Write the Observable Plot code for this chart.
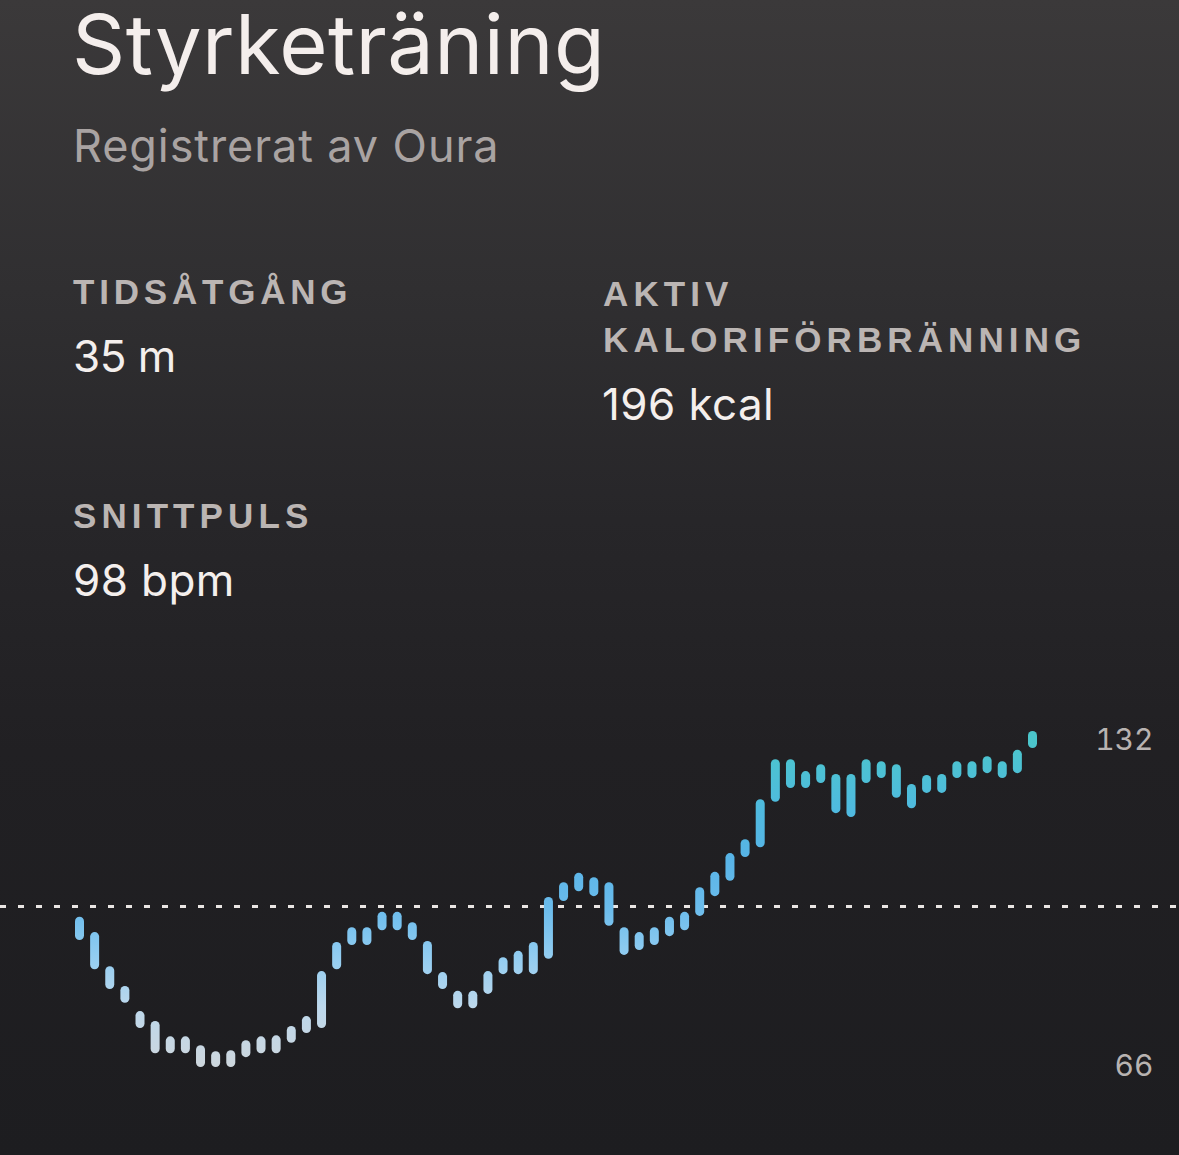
<!DOCTYPE html>
<html>
<head>
<meta charset="utf-8">
<script src="https://cdn.jsdelivr.net/npm/d3@7"></script>
<script src="https://cdn.jsdelivr.net/npm/@observablehq/plot@0.6"></script>
<style>
  html, body { margin: 0; padding: 0; }
  body {
    width: 1179px; height: 1155px; overflow: hidden; position: relative;
    background: linear-gradient(180deg, #3b393a 0%, #302f31 25%, #272629 45%, #212023 65%, #1d1d20 100%);
    font-family: Inter, "Noto Sans", sans-serif;
  }
  .t { position: absolute; white-space: nowrap; line-height: 1; }
  .title { left: 72px; top: 11px; font-size: 83px; line-height: 0.8; color: #f4eeec; font-weight: 400; letter-spacing: 0.45px; }
  .sub { left: 73px; top: 123px; font-size: 45px; color: #a9a3a2; letter-spacing: 0.9px; }
  .lab { font-family: "Liberation Sans", Arial, sans-serif; font-weight: 700; font-size: 35px; letter-spacing: 5.1px; color: #bbb5b3; }
  .val { font-size: 44px; color: #f4efed; letter-spacing: 0.4px; }
  #chart { position: absolute; left: 0; top: 700px; }
</style>
</head>
<body>
<div class="t title">Styrketräning</div>
<div class="t sub">Registrerat av Oura</div>
<div class="t lab" style="left:73px; top:274px; letter-spacing:4.8px;">TIDSÅTGÅNG</div>
<div class="t val" style="left:73px; top:334px; letter-spacing:-0.5px;">35 m</div>
<div class="t lab" style="left:603px; top:276px;">AKTIV</div>
<div class="t lab" style="left:603px; top:322px;">KALORIFÖRBRÄNNING</div>
<div class="t val" style="left:602px; top:382px;">196 kcal</div>
<div class="t lab" style="left:73px; top:498px;">SNITTPULS</div>
<div class="t val" style="left:73px; top:558px;">98 bpm</div>
<div id="chart"></div>
<script>
// Heart-rate samples (bpm): each bar spans low..high
const sampleIndex = d3.range(1, 65);
const bpmHigh = [95.3, 92.2, 85.3, 81.3, 76.2, 74.2, 71.1, 71.1, 69.3, 68.1, 68.3, 70.3, 71.1, 71.3, 73.2, 75.2,
  84.3, 90.2, 93.2, 93.2, 96.3, 96.3, 94.2, 90.4, 84.1, 80.3, 80.3, 84.3, 87.1, 88.4, 90.2, 99.3,
  102.3, 104.2, 103.3, 102.3, 93.2, 92.2, 93.2, 95.3, 96.3, 101.3, 104.4, 108.2, 111.0, 119.1,
  127.2, 127.2, 124.8, 126.2, 124.2, 124.2, 127.2, 126.8, 126.2, 122.2, 124.0, 124.2, 126.8, 126.8,
  127.8, 126.8, 129.1, 132.9];
const bpmLow = [92.4, 86.5, 82.5, 79.7, 74.6, 69.5, 69.5, 69.5, 66.7, 66.7, 66.7, 68.7, 69.5, 69.5, 71.6, 73.6,
  74.6, 86.5, 91.4, 91.4, 94.4, 94.4, 92.4, 85.5, 82.5, 78.6, 78.6, 81.5, 85.5, 85.5, 85.5, 88.6,
  100.3, 102.3, 101.3, 95.3, 89.4, 90.4, 91.4, 93.2, 94.4, 97.3, 101.3, 104.4, 109.2, 111.2,
  120.4, 123.2, 123.2, 124.2, 118.1, 117.3, 124.2, 125.2, 121.2, 119.1, 122.2, 122.2, 125.2, 125.2,
  126.2, 125.2, 126.2, 131.3];
const yTicks = [66, 132];
const avgBpm = 98;
const gradientStops = [
  [66, "#cdd6dd"], [78, "#bdd8ec"], [88, "#93cdf1"], [98, "#6bbcec"],
  [108, "#58b4e7"], [118, "#4fbadf"], [132, "#4bc6cb"]
];

const samples = sampleIndex.map((i, k) => ({ i, lo: bpmLow[k], hi: bpmHigh[k] }));

const chart = Plot.plot({
  width: 1179,
  height: 455,
  marginLeft: 79,
  marginRight: 147,
  marginTop: 40,
  marginBottom: 89,
  style: { background: "transparent", overflow: "visible" },
  x: { domain: [1, 64], axis: null },
  y: { domain: [66, 132] },
  marks: [
    Plot.ruleY([avgBpm], {
      stroke: "#e9e5e3", strokeWidth: 3, strokeDasharray: "6,12", dy: -2,
      insetLeft: -79, insetRight: -147
    }),
    Plot.ruleX(samples, {
      x: "i", y1: "lo", y2: "hi",
      stroke: "url(#hrGrad)", strokeWidth: 9, strokeLinecap: "round"
    }),
    Plot.axisY({
      anchor: "right", ticks: yTicks, tickSize: 0, tickPadding: 0,
      dx: 121, textAnchor: "end", fontSize: 30, fill: "#b8b3b1",
      fontFamily: "Inter, sans-serif", label: null
    })
  ]
});

const y = chart.scale("y");
const svg = d3.select(chart);
const grad = svg.insert("defs", ":first-child")
  .append("linearGradient")
  .attr("id", "hrGrad")
  .attr("gradientUnits", "userSpaceOnUse")
  .attr("x1", 0).attr("x2", 0)
  .attr("y1", y.apply(66)).attr("y2", y.apply(132));
gradientStops.forEach(([v, c]) => {
  grad.append("stop").attr("offset", (v - 66) / (132 - 66)).attr("stop-color", c);
});

document.getElementById("chart").appendChild(chart);
</script>
</body>
</html>
